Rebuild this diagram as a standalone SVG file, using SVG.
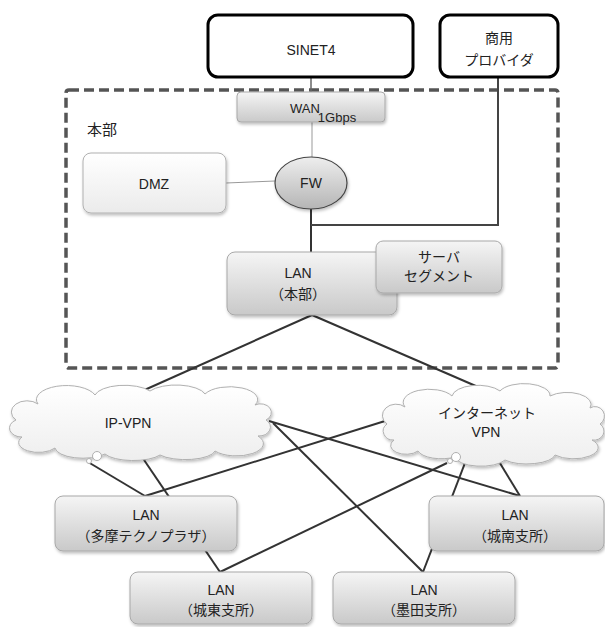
<svg xmlns="http://www.w3.org/2000/svg" width="605" height="627" viewBox="0 0 605 627">
<defs>
<linearGradient id="gBox" x1="0" y1="0" x2="0" y2="1">
<stop offset="0" stop-color="#f5f5f5"/>
<stop offset="1" stop-color="#c9c9c9"/>
</linearGradient>
<linearGradient id="gLight" x1="0" y1="0" x2="0" y2="1">
<stop offset="0" stop-color="#ffffff"/>
<stop offset="1" stop-color="#ebebeb"/>
</linearGradient>
<linearGradient id="gFw" x1="0" y1="0" x2="0" y2="1">
<stop offset="0" stop-color="#eeeeee"/>
<stop offset="1" stop-color="#b5b5b5"/>
</linearGradient>
<linearGradient id="gCloud" x1="0" y1="0" x2="0" y2="1">
<stop offset="0" stop-color="#ffffff"/>
<stop offset="1" stop-color="#eeeeee"/>
</linearGradient>
<filter id="sh" x="-10%" y="-10%" width="120%" height="130%">
<feDropShadow dx="1" dy="2" stdDeviation="1.5" flood-color="#000" flood-opacity="0.25"/>
</filter>
</defs>
<style>
text{font-family:"Liberation Sans","Noto Sans CJK JP",sans-serif;font-size:14px;fill:#222;text-anchor:middle}
.box{fill:url(#gBox);stroke:#a8a8a8;stroke-width:1;filter:url(#sh)}
.light{fill:url(#gLight);stroke:#b0b0b0;stroke-width:1;filter:url(#sh)}
.top{fill:#fff;stroke:#000;stroke-width:3}
.cloud{fill:url(#gCloud);stroke:#b0b0b0;stroke-width:1;filter:url(#sh)}
.bub{fill:#fff;stroke:#b0b0b0;stroke-width:1}
.dk{stroke:#333;stroke-width:2;fill:none}
.lt{stroke:#999;stroke-width:1;fill:none}
</style>

<rect id="honbu-area" x="66" y="90" width="492" height="278" rx="3" fill="none" stroke="#555" stroke-width="3.5" stroke-dasharray="10 5"/>
<text x="102" y="135" style="font-size:15px">本部</text>

<g id="connectors">
<line class="lt" x1="311" y1="77" x2="311" y2="92" style="stroke:#666;stroke-width:1.5"/>
<line class="lt" x1="312" y1="122" x2="312" y2="157"/>
<line class="lt" x1="226" y1="183" x2="275" y2="181"/>
<line class="dk" x1="311" y1="209" x2="311" y2="252"/>
<polyline class="dk" points="498,77 498,225 311,225" style="stroke:#444"/>
<line class="dk" x1="312" y1="315" x2="140" y2="392"/>
<line class="dk" x1="312" y1="315" x2="492" y2="393"/>
<line class="dk" x1="88" y1="462" x2="145" y2="496"/>
<line class="dk" x1="140" y1="454" x2="220" y2="572"/>
<line class="dk" x1="269" y1="421" x2="520" y2="496"/>
<line class="dk" x1="273" y1="423" x2="423" y2="572"/>
<line class="dk" x1="385" y1="421" x2="145" y2="496"/>
<line class="dk" x1="447" y1="463" x2="220" y2="572"/>
<line class="dk" x1="470" y1="450" x2="423" y2="572"/>
<line class="dk" x1="495" y1="455" x2="520" y2="496"/>
</g>

<g id="sinet4">
<rect class="top" x="208" y="15" width="205" height="62" rx="10"/>
<text x="311" y="55">SINET4</text>
</g>
<g id="provider">
<rect class="top" x="440" y="15" width="118" height="62" rx="10"/>
<text x="499" y="43">商用</text>
<text x="499" y="65">プロバイダ</text>
</g>
<g id="wan">
<rect class="box" x="237" y="92" width="148" height="30" rx="4"/>
<text x="305" y="113" style="font-size:13px">WAN</text>
<text x="337" y="122" style="font-size:13px">1Gbps</text>
</g>
<g id="dmz">
<rect class="light" x="83" y="153" width="143" height="60" rx="8"/>
<text x="154" y="189">DMZ</text>
</g>
<g id="fw">
<ellipse cx="311" cy="183" rx="36" ry="26" fill="url(#gFw)" stroke="#444" stroke-width="1.2" filter="url(#sh)"/>
<text x="311" y="188">FW</text>
</g>
<g id="lan-honbu">
<rect class="box" x="227" y="252" width="170" height="63" rx="8"/>
<text x="298" y="278">LAN</text>
<text x="298" y="299">（本部）</text>
</g>
<g id="server">
<rect class="box" x="376" y="241" width="126" height="52" rx="7"/>
<text x="439" y="262">サーバ</text>
<text x="439" y="281">セグメント</text>
</g>

<g id="ip-vpn">
<path class="cloud" d="M22,437 A12,9 0 0 1 16,420 A14,10 0 0 1 38,404 A28,13 0 0 1 95,395 A30,12 0 0 1 150,391 A30,12 0 0 1 205,394 A26,12 0 0 1 255,405 A10,8 0 0 1 266,420 A12,9 0 0 1 258,436 A26,12 0 0 1 215,451 A30,10 0 0 1 160,455 A30,10 0 0 1 105,454 A28,11 0 0 1 55,448 A18,9 0 0 1 22,437 Z"/>
<circle class="bub" cx="97" cy="456" r="4.5"/>
<circle class="bub" cx="89" cy="461" r="2.5"/>
<text x="128" y="428">IP-VPN</text>
</g>
<g id="inet-vpn">
<path class="cloud" d="M394,440 A10,9 0 0 1 387,424 A12,10 0 0 1 405,407 A26,13 0 0 1 452,396 A26,12 0 0 1 500,391 A26,12 0 0 1 550,396 A24,12 0 0 1 590,408 A9,9 0 0 1 600,424 A10,9 0 0 1 592,440 A24,11 0 0 1 555,455 A28,10 0 0 1 505,460 A26,10 0 0 1 455,457 A24,10 0 0 1 418,451 A14,8 0 0 1 394,440 Z"/>
<circle class="bub" cx="456" cy="457" r="4.5"/>
<circle class="bub" cx="450" cy="461" r="2.5"/>
<text x="487" y="418">インターネット</text>
<text x="486" y="437">VPN</text>
</g>

<g id="lan-tama">
<rect class="box" x="55" y="496" width="182" height="55" rx="8"/>
<text x="146" y="520">LAN</text>
<text x="146" y="541">（多摩テクノプラザ）</text>
</g>
<g id="lan-jonan">
<rect class="box" x="429" y="496" width="175" height="55" rx="8"/>
<text x="515" y="520">LAN</text>
<text x="515" y="541">（城南支所）</text>
</g>
<g id="lan-joto">
<rect class="box" x="130" y="572" width="182" height="52" rx="8"/>
<text x="221" y="595">LAN</text>
<text x="221" y="615">（城東支所）</text>
</g>
<g id="lan-sumida">
<rect class="box" x="333" y="572" width="182" height="52" rx="8"/>
<text x="424" y="595">LAN</text>
<text x="424" y="615">（墨田支所）</text>
</g>
</svg>
